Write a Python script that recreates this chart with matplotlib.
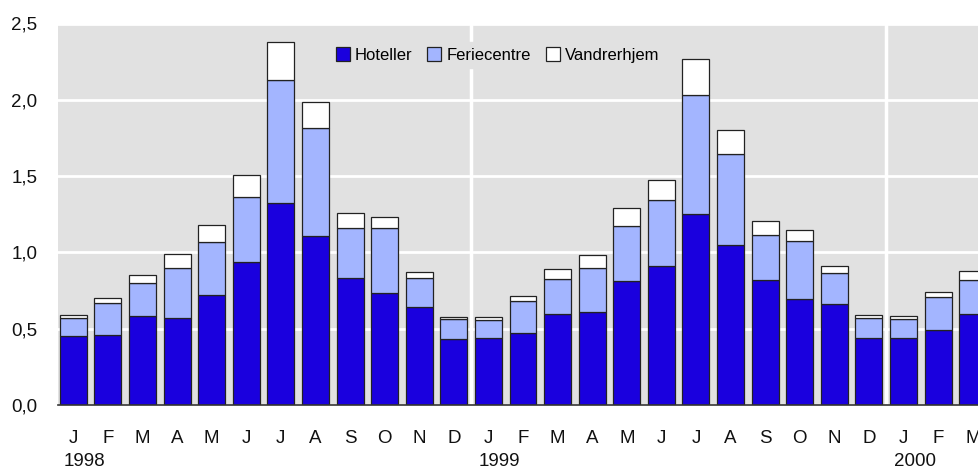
"""Overnatninger pr. måned 1998-2000, stablet efter overnatningsform."""
import matplotlib
matplotlib.use("Agg")
import matplotlib.pyplot as plt
from matplotlib.transforms import blended_transform_factory

plt.rcParams["font.family"] = ["Liberation Sans", "DejaVu Sans"]

months = ["J", "F", "M", "A", "M", "J", "J", "A", "S", "O", "N", "D"] * 2 + ["J", "F", "M"]
years = {0: "1998", 12: "1999", 24: "2000"}

# cumulative tops
hotel = [0.45, 0.46, 0.58, 0.57, 0.72, 0.935, 1.325, 1.105, 0.835, 0.735, 0.64, 0.43,
         0.437, 0.475, 0.594, 0.609, 0.813, 0.911, 1.254, 1.046, 0.817, 0.692, 0.662, 0.441,
         0.437, 0.489, 0.594]
ferie_top = [0.568, 0.67, 0.797, 0.90, 1.066, 1.361, 2.128, 1.813, 1.162, 1.162, 0.83, 0.564,
             0.555, 0.682, 0.828, 0.90, 1.173, 1.341, 2.029, 1.643, 1.112, 1.077, 0.863, 0.572,
             0.564, 0.708, 0.819]
vandr_top = [0.588, 0.703, 0.852, 0.987, 1.18, 1.505, 2.377, 1.988, 1.26, 1.234, 0.872, 0.579,
             0.577, 0.714, 0.889, 0.981, 1.289, 1.476, 2.267, 1.804, 1.208, 1.147, 0.911, 0.592,
             0.583, 0.74, 0.876]

ferie = [t - h for t, h in zip(ferie_top, hotel)]
vandr = [t - f for t, f in zip(vandr_top, ferie_top)]

BG = "#e1e1e1"
C_HOTEL = "#1a00de"
C_FERIE = "#a3b5ff"
C_VANDR = "#ffffff"

fig = plt.figure(figsize=(9.79, 4.72), dpi=100)
ax = fig.add_axes([58 / 979, 67 / 472, 1 - 58 / 979, (405 - 23.5) / 472])
ax.set_facecolor(BG)

x = list(range(len(months)))
kw = dict(width=0.78, edgecolor="#222222", linewidth=0.9, zorder=3)
ax.bar(x, hotel, color=C_HOTEL, label="Hoteller", **kw)
ax.bar(x, ferie, bottom=hotel, color=C_FERIE, label="Feriecentre", **kw)
ax.bar(x, vandr, bottom=ferie_top, color=C_VANDR, label="Vandrerhjem", **kw)

ax.set_ylim(0, 2.5)
ax.set_xlim(-0.44, 26.18)
ax.set_yticks([0, 0.5, 1.0, 1.5, 2.0, 2.5])
ax.set_yticklabels([f"{v:.1f}".replace(".", ",") for v in ax.get_yticks()])
ax.yaxis.grid(True, color="white", linewidth=2, zorder=1)
ax.set_axisbelow(True)
for xv in (11.5, 23.5):
    ax.axvline(xv, color="white", linewidth=2.5, zorder=1)

ax.set_xticks(x)
ax.set_xticklabels(months)
ax.tick_params(axis="both", length=0, labelsize=13.5, colors="#111111")
ax.tick_params(axis="x", pad=18)
ax.tick_params(axis="y", pad=15)

for s in ("top", "right", "left"):
    ax.spines[s].set_visible(False)
ax.spines["bottom"].set_color("#333333")
ax.spines["bottom"].set_linewidth(1.2)
ax.spines["bottom"].set_zorder(4)

trans = blended_transform_factory(ax.transData, fig.transFigure)
for i, yr in years.items():
    ax.text(i - 0.27, 1 - 462 / 472, yr, transform=trans, ha="left", va="center",
            fontsize=13.5, color="#111111")

leg = ax.legend(loc="center", bbox_to_anchor=(497.5 / 979, 1 - 55 / 472),
                bbox_transform=fig.transFigure, ncol=3, fontsize=12, frameon=True,
                facecolor=BG, edgecolor=BG, framealpha=1, fancybox=False,
                handlelength=0.85, handleheight=0.85, handletextpad=0.3,
                columnspacing=0.9, borderpad=0.3)
leg.set_zorder(5)

fig.savefig("out.png", dpi=100)
